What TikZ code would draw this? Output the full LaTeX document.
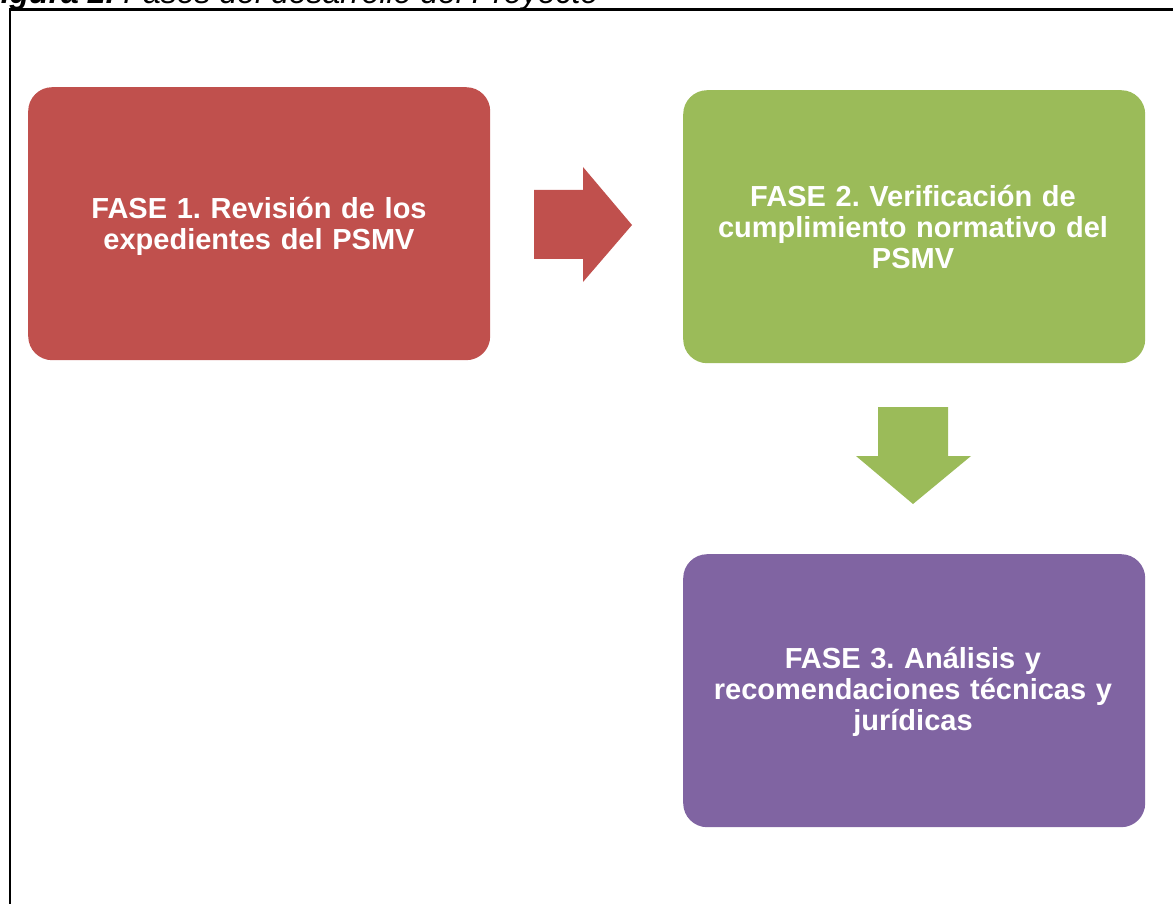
\documentclass[tikz,border=0pt]{standalone}
\usepackage{fontspec}
\setmainfont{Liberation Sans}
\usetikzlibrary{positioning}
\definecolor{fred}{HTML}{C0504D}
\definecolor{fgreen}{HTML}{9BBB59}
\definecolor{fpurple}{HTML}{8064A2}
\tikzset{
  phase/.style={draw=none, rounded corners=24pt, minimum width=462pt, minimum height=273pt, inner sep=0pt},
  phasetext/.style={text=white, font=\fontsize{29}{31}\selectfont\bfseries, align=center, text width=440pt},
  frameline/.style={line width=2.2pt, black}
}
\frenchspacing
\begin{document}
\begin{tikzpicture}[x=1pt,y=-1pt]
\useasboundingbox (0,0) rectangle (1173,904);
% caption (cut off at top)
\node[anchor=base west, inner sep=0pt, font=\fontsize{32}{36}\selectfont\itshape] (cap) at (-19,4) {\textbf{Figura 2.} Fases del desarrollo del Proyecto};
% frame
\draw[frameline] (10,920) -- (10,9.5) -- (1190,9.5);
% boxes
\node[phase, fill=fred, anchor=north west] (b1) at (28,87) {};
\node[phase, fill=fgreen, anchor=north west] (b2) at (683,90) {};
\node[phase, fill=fpurple, anchor=north west] (b3) at (683,554) {};
\node[phasetext] (t1) at (259,226) {FASE 1. Revisión de los\\expedientes del PSMV};
\node[phasetext] (t2) at (913,227) {FASE 2. Verificación de\\cumplimiento normativo del\\PSMV};
\node[phasetext] (t3) at (913,692) {FASE 3. Análisis y\\recomendaciones técnicas y\\jurídicas};
% block arrows
\fill[fred] (534,190) -- (583,190) -- (583,167) -- (632,225) -- (583,282) -- (583,259) -- (534,259) -- cycle;
\fill[fgreen] (878,407) -- (948,407) -- (948,456) -- (971,456) -- (913,504) -- (856,456) -- (878,456) -- cycle;
\end{tikzpicture}
\end{document}
